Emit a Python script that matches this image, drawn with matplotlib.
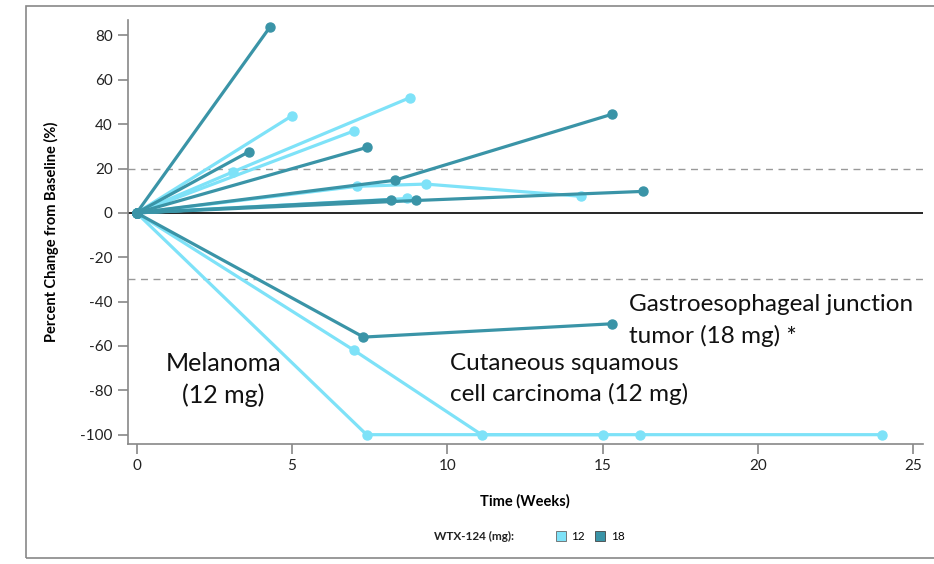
import matplotlib
matplotlib.use("Agg")
import matplotlib.pyplot as plt
from matplotlib.patches import Rectangle
from matplotlib.lines import Line2D

plt.rcParams['font.family'] = ['Lato', 'DejaVu Sans']
plt.rcParams['axes.unicode_minus'] = False

# colours for the two dose levels
LIGHT = '#7EE2F8'
DARK = '#3A94A7'

# 12 mg patients: weeks and percent change
light_x = [
    [0, 5.0],
    [0, 3.1, 8.8],
    [0, 7.0],
    [0, 7.1, 9.3, 14.3],
    [0, 8.7],
    [0, 7.4, 15.0],
    [0, 7.0, 11.1, 16.2, 24.0],
]
light_y = [
    [0, 43.8],
    [0, 18.5, 52],
    [0, 37],
    [0, 12, 13, 7.5],
    [0, 6.5],
    [0, -100, -100],
    [0, -62, -100, -100, -100],
]

# 18 mg patients
dark_x = [
    [0, 4.3],
    [0, 3.6],
    [0, 7.4],
    [0, 8.3, 15.3],
    [0, 8.2],
    [0, 9.0, 16.3],
    [0, 7.3, 15.3],
]
dark_y = [
    [0, 84],
    [0, 27.5],
    [0, 29.5],
    [0, 14.7, 44.5],
    [0, 6],
    [0, 5.6, 9.7],
    [0, -56, -50],
]

x_ticks = [0, 5, 10, 15, 20, 25]
y_ticks = [-100, -80, -60, -40, -20, 0, 20, 40, 60, 80]

fig = plt.figure(figsize=(9.34, 5.64), dpi=100)

# outer grey frame
fig.patches.append(Rectangle((26 / 934, 6 / 564), 1.0, 552 / 564,
                             transform=fig.transFigure, fill=False,
                             edgecolor='#888888', linewidth=1.2))

ax = fig.add_axes([0.137, 0.2128, 0.851, 0.751])

ax.axhline(0, color='black', linewidth=1.2, zorder=1)
ax.axhline(20, color='#999999', linewidth=1.0, linestyle=(0, (5, 4)), zorder=1)
ax.axhline(-30, color='#999999', linewidth=1.0, linestyle=(0, (5, 4)), zorder=1)

for xs, ys in zip(light_x, light_y):
    ax.plot(xs, ys, '-o', color=LIGHT, linewidth=2.3, markersize=6.5, zorder=2)
for xs, ys in zip(dark_x, dark_y):
    ax.plot(xs, ys, '-o', color=DARK, linewidth=2.3, markersize=6.5, zorder=3)

ax.set_xlim(-0.28, 25.3)
ax.set_ylim(-104.2, 86.8)
ax.set_xticks(x_ticks)
ax.set_yticks(y_ticks)

for side in ['top', 'right']:
    ax.spines[side].set_visible(False)
for side in ['left', 'bottom']:
    ax.spines[side].set_color('#888888')
    ax.spines[side].set_linewidth(1.2)
ax.tick_params(axis='both', colors='#888888', labelcolor='#222222',
               labelsize=11, length=7, width=1.2, direction='out', pad=4)

ax.set_xlabel('Time (Weeks)', fontsize=10.5, fontweight='bold', labelpad=15)
ax.set_ylabel('Percent Change from Baseline (%)', fontsize=10.5,
              fontweight='bold', labelpad=15)

ax.text(2.8, -75, 'Melanoma\n(12 mg)', fontsize=18, ha='center', va='center',
        multialignment='center', linespacing=1.45, color='#111111')
ax.text(10.1, -75, 'Cutaneous squamous\ncell carcinoma (12 mg)', fontsize=17.5,
        ha='left', va='center', linespacing=1.5, color='#111111')
ax.text(15.85, -48.5, 'Gastroesophageal junction\ntumor (18 mg) *', fontsize=17.5,
        ha='left', va='center', linespacing=1.5, color='#111111')

# legend at the bottom
fig.text(0.550, 0.049, 'WTX-124 (mg):', fontsize=8.5, fontweight='bold',
         ha='right', va='center', color='#222222')
handles = [Line2D([], [], marker='s', linestyle='none', markersize=7,
                  markerfacecolor=LIGHT, markeredgecolor='#666666',
                  markeredgewidth=0.6),
           Line2D([], [], marker='s', linestyle='none', markersize=7,
                  markerfacecolor=DARK, markeredgecolor='#444444',
                  markeredgewidth=0.6)]
fig.legend(handles, ['12', '18'], loc='center left',
           bbox_to_anchor=(0.589, 0.049), ncol=2, frameon=False,
           fontsize=8.5, handlelength=0.8, handletextpad=0.5,
           columnspacing=0.9, borderpad=0)

fig.savefig('out.png', dpi=100)
